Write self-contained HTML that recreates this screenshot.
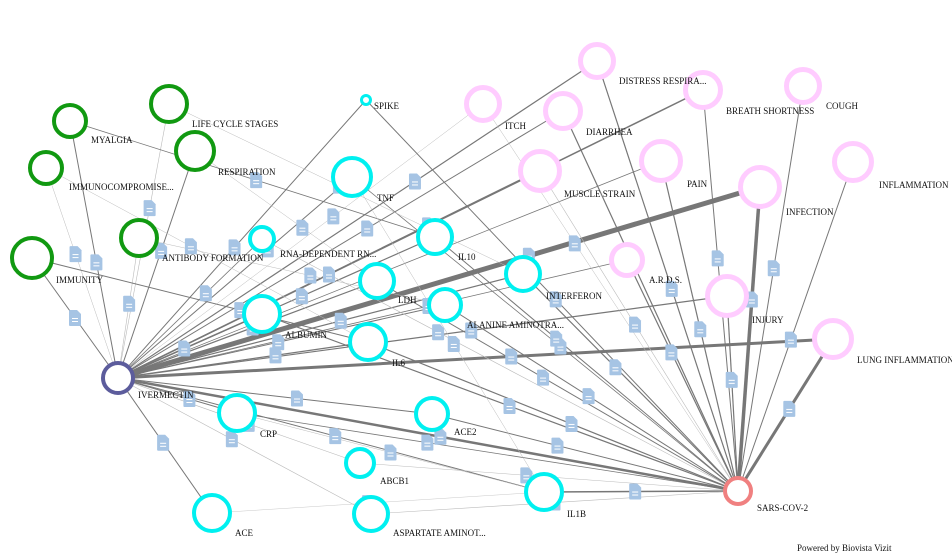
<!DOCTYPE html>
<html><head><meta charset="utf-8"><style>
html,body{margin:0;padding:0;background:#fff;width:952px;height:558px;overflow:hidden}
svg text{font-family:"Liberation Serif",serif;font-size:9px;fill:#111}
</style></head><body>
<svg id="s" width="952" height="558" viewBox="0 0 952 558">
<g id="edges"></g><g id="icons"></g><g id="nodes"></g>
<g>
<text x="91" y="143">MYALGIA</text>
<text x="192" y="127">LIFE CYCLE STAGES</text>
<text x="69" y="190">IMMUNOCOMPROMISE...</text>
<text x="218" y="175">RESPIRATION</text>
<text x="162" y="261">ANTIBODY FORMATION</text>
<text x="56" y="283">IMMUNITY</text>
<text x="374" y="109">SPIKE</text>
<text x="377" y="201">TNF</text>
<text x="280" y="257">RNA-DEPENDENT RN...</text>
<text x="458" y="260">IL10</text>
<text x="546" y="299">INTERFERON</text>
<text x="398" y="303">LDH</text>
<text x="467" y="328">ALANINE AMINOTRA...</text>
<text x="285" y="338">ALBUMIN</text>
<text x="392" y="366">IL6</text>
<text x="260" y="437">CRP</text>
<text x="454" y="435">ACE2</text>
<text x="380" y="484">ABCB1</text>
<text x="567" y="517">IL1B</text>
<text x="235" y="536">ACE</text>
<text x="393" y="536">ASPARTATE AMINOT...</text>
<text x="619" y="84">DISTRESS RESPIRA...</text>
<text x="505" y="129">ITCH</text>
<text x="586" y="135">DIARRHEA</text>
<text x="726" y="114">BREATH SHORTNESS</text>
<text x="826" y="109">COUGH</text>
<text x="564" y="197">MUSCLE STRAIN</text>
<text x="687" y="187">PAIN</text>
<text x="879" y="188">INFLAMMATION</text>
<text x="786" y="215">INFECTION</text>
<text x="649" y="283">A.R.D.S.</text>
<text x="752" y="323">INJURY</text>
<text x="857" y="363">LUNG INFLAMMATION</text>
<text x="138" y="398">IVERMECTIN</text>
<text x="757" y="511">SARS-COV-2</text>
<text x="797" y="551">Powered by Biovista Vizit</text>
</g>
</svg>
<script>
var N={
MY:[70,121,17,'#119911'],LC:[169,104,19,'#119911'],IC:[46,168,17,'#119911'],RE:[195,151,20,'#119911'],AF:[139,238,19,'#119911'],IM:[32,258,21,'#119911'],
SP:[366,100,5,'#00f0f0'],TNF:[352,177,20,'#00f0f0'],RNA:[262,239,13,'#00f0f0'],IL10:[435,237,18,'#00f0f0'],INT:[523,274,18,'#00f0f0'],LDH:[377,281,18,'#00f0f0'],ALA:[445,305,17,'#00f0f0'],ALB:[262,314,19,'#00f0f0'],IL6:[368,342,19,'#00f0f0'],CRP:[237,413,19,'#00f0f0'],ACE2:[432,414,17,'#00f0f0'],ABC:[360,463,15,'#00f0f0'],IL1B:[544,492,19,'#00f0f0'],ACE:[212,513,19,'#00f0f0'],ASP:[371,514,18,'#00f0f0'],
DR:[597,61,18,'#ffccff'],IT:[483,104,18,'#ffccff'],DI:[563,111,19,'#ffccff'],BS:[703,90,19,'#ffccff'],CO:[803,86,18,'#ffccff'],MS:[540,171,21,'#ffccff'],PA:[661,161,21,'#ffccff'],INF:[853,162,20,'#ffccff'],INFE:[760,187,21,'#ffccff'],AR:[627,260,17,'#ffccff'],INJ:[727,296,21,'#ffccff'],LI:[833,339,20,'#ffccff'],
IV:[118,378,16,'#5c5c9c'],SA:[738,491,14,'#f08080']};
var E=[
['IV','MY',1],['IV','LC',.6],['IV','IC',.5],['IV','RE',1],['IV','AF',.6],['IV','IM',1],['IV','SP',1],['IV','TNF',1],['IV','RNA',.8],['IV','IL10',1.2],['IV','INT',1.2],['IV','LDH',1.2],['IV','ALA',1],['IV','ALB',1.5],['IV','IL6',1.2],['IV','CRP',1],['IV','ACE2',1],['IV','ABC',.6],['IV','IL1B',1],['IV','ACE',1],['IV','ASP',.6],
['IV','DR',1.2],['IV','IT',.5],['IV','DI',1],['IV','BS',1.5],['IV','MS',1.5],['IV','PA',.8],['IV','INFE',5],['IV','AR',.8],['IV','INJ',1.2],['IV','LI',3],['IV','SA',2.5],
['SA','SP',1],['SA','TNF',.8],['SA','RNA',.6],['SA','IL10',1],['SA','INT',1.2],['SA','LDH',1],['SA','ALA',1],['SA','ALB',1.2],['SA','IL6',1.2],['SA','CRP',.8],['SA','ACE2',1],['SA','ABC',.5],['SA','IL1B',1.5],['SA','ASP',.6],
['SA','DR',1.2],['SA','IT',.5],['SA','DI',1.2],['SA','BS',1],['SA','CO',1],['SA','MS',.6],['SA','PA',1.2],['SA','INF',1],['SA','INFE',3.5],['SA','AR',1.2],['SA','INJ',1.2],['SA','LI',3],
['MY','IL10',.8],['LC','INT',.5],['IC','IL6',.5],['IM','IL6',1],['RE','LDH',.5],['AF','ALA',.5],['TNF','IL1B',.5],['CRP','IL1B',.5],['ACE','IL1B',.4]];
var ns='http://www.w3.org/2000/svg',eg=document.getElementById('edges'),ig=document.getElementById('icons'),ng=document.getElementById('nodes');
function el(t,a,p){var e=document.createElementNS(ns,t);for(var k in a)e.setAttribute(k,a[k]);p.appendChild(e);return e}
E.forEach(function(e,i){var a=N[e[0]],b=N[e[1]];var w=e[2];
el('line',{x1:a[0],y1:a[1],x2:b[0],y2:b[1],stroke:w<.7?'#bbb':'#777','stroke-width':w},eg);
var t=0.45+((i*37)%20)/100;var x=a[0]+(b[0]-a[0])*t,y=a[1]+(b[1]-a[1])*t;
var g=el('g',{transform:'translate('+(x-6)+','+(y-8)+')'},ig);
el('path',{d:'M1,0 H8 L12,4 V15 Q12,16 11,16 H1 Q0,16 0,15 V1 Q0,0 1,0Z',fill:'#a6c4e4'},g);
el('rect',{x:3,y:8,width:6,height:1,fill:'#fff'},g);el('rect',{x:3,y:11,width:6,height:1,fill:'#fff'},g);});
for(var k in N){var n=N[k];var sw=n[3]=='#ffccff'?5:4;if(k=='SP')sw=3;
el('circle',{cx:n[0],cy:n[1],r:n[2]-sw/2+1,fill:'#fff',stroke:n[3],'stroke-width':sw},ng);}
</script>
</body></html>
